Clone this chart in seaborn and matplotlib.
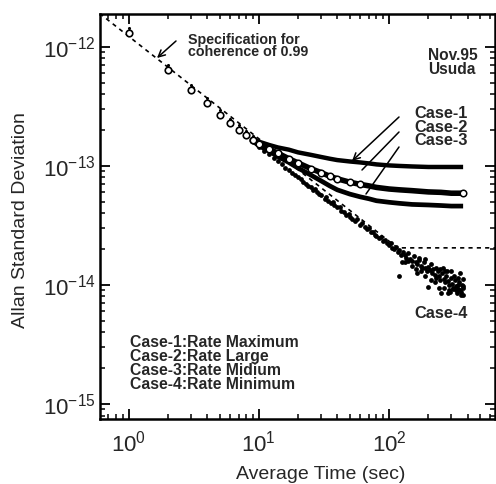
import numpy as np
import pandas as pd
import matplotlib
matplotlib.use("Agg")
import matplotlib.pyplot as plt
import seaborn as sns
from matplotlib.ticker import LogLocator, NullFormatter, FixedLocator

# ---------------- data ----------------
tau_early = [1, 2, 3, 4, 5, 6, 7, 8, 9]
sig_early = [1.31e-12, 6.4e-13, 4.35e-13, 3.39e-13, 2.68e-13, 2.30e-13, 2.01e-13, 1.82e-13, 1.66e-13]
sig_early_top = [1.45e-12, 7.0e-13, 4.8e-13, 3.7e-13, 2.95e-13, 2.5e-13, 2.2e-13, 1.95e-13, 1.8e-13]

tau_line = [9, 10, 12, 14, 17, 20, 25, 30, 35, 40, 50, 60, 70, 80, 100, 120, 150, 200, 250, 300, 370]
case1 = [1.68e-13, 1.60e-13, 1.50e-13, 1.43e-13, 1.37e-13, 1.30e-13, 1.24e-13, 1.19e-13, 1.15e-13, 1.12e-13,
         1.09e-13, 1.07e-13, 1.05e-13, 1.03e-13, 1.01e-13, 1.00e-13, 9.9e-14, 9.8e-14, 9.8e-14, 9.8e-14, 9.8e-14]
case2 = [1.65e-13, 1.52e-13, 1.38e-13, 1.28e-13, 1.15e-13, 1.06e-13, 9.5e-14, 8.8e-14, 8.2e-14, 7.8e-14,
         7.3e-14, 7.0e-14, 6.8e-14, 6.6e-14, 6.4e-14, 6.3e-14, 6.2e-14, 6.05e-14, 6.0e-14, 5.9e-14, 5.9e-14]
case3 = [1.62e-13, 1.48e-13, 1.33e-13, 1.20e-13, 1.07e-13, 9.6e-14, 8.4e-14, 7.5e-14, 6.8e-14, 6.3e-14,
         5.8e-14, 5.5e-14, 5.3e-14, 5.1e-14, 4.95e-14, 4.85e-14, 4.75e-14, 4.7e-14, 4.65e-14, 4.6e-14, 4.6e-14]

tau4 = [10, 11, 12, 13, 14, 15, 16, 17, 18, 19, 20, 21, 22, 23, 24, 25, 26, 27, 28, 29, 30, 32, 33, 34, 36,
        37, 38, 40, 42, 43, 45, 47, 49, 50, 52, 55, 57, 60, 62, 65, 68, 70, 72, 75, 78, 80, 83, 86, 90, 93,
        96, 100, 103, 106, 110, 113, 117, 120, 124, 128, 132, 136, 140, 145, 150, 155, 160, 165, 170, 175,
        180, 185, 190, 195, 200, 206, 212, 218, 224, 230, 236, 242, 248, 255, 262, 268, 275, 282, 290, 297,
        305, 312, 320, 328, 336, 345, 352, 360, 366, 372,
        119, 125, 165, 170, 190, 200, 210, 240, 250, 260, 285, 290, 300, 330, 350, 370, 355, 340, 310, 270,
        210, 225, 245, 265, 280, 295, 315, 325, 340, 358, 368, 230, 190, 175, 160, 150, 140, 133]
sig4 = np.array([14.5, 13.4, 12.5, 11.6, 11.0, 10.3, 9.7, 9.3, 8.8, 8.4, 8.0, 7.8, 7.3, 7.0, 6.8, 6.6, 6.3,
                 6.4, 6.0, 5.8, 5.7, 5.3, 5.5, 5.1, 4.9, 5.0, 4.7, 4.5, 4.5, 4.2, 4.1, 3.9, 3.95, 3.7,
                 3.6, 3.45, 3.55, 3.2, 3.3, 3.05, 2.95, 3.0, 2.8, 2.8, 2.65, 2.6, 2.5, 2.55, 2.35, 2.4,
                 2.25, 2.15, 2.25, 2.05, 2.0, 2.1, 1.9, 1.95, 1.8, 1.9, 1.8, 1.7, 1.85, 1.65, 1.6, 1.75,
                 1.55, 1.5, 1.62, 1.45, 1.4, 1.55, 1.38, 1.3, 1.42, 1.33, 1.25, 1.36, 1.22, 1.15, 1.3,
                 1.18, 1.1, 1.25, 1.12, 1.05, 1.2, 1.08, 1.0, 1.14, 1.02, 0.95, 1.1, 0.98, 0.92, 1.06,
                 0.9, 1.0, 0.94, 0.98,
                 1.18, 1.55, 1.25, 1.7, 1.65, 0.97, 1.1, 0.95, 0.85, 1.4, 0.85, 0.9, 1.3, 0.85, 1.25,
                 0.83, 0.88, 1.15, 0.93, 1.3,
                 1.5, 1.05, 1.35, 0.95, 1.3, 0.88, 1.2, 0.9, 1.0, 0.82, 1.12, 1.4, 1.2, 1.3, 1.35, 1.45,
                 1.6, 1.55]) * 1e-14

spec_tau = [0.6, 116, 650]
spec_sig = [1.91e-12, 2.05e-14, 2.05e-14]

x_major = [1, 10, 100]
y_major = [1e-15, 1e-14, 1e-13, 1e-12]

legend_lines = ["Case-1:Rate Maximum", "Case-2:Rate Large", "Case-3:Rate Midium", "Case-4:Rate Minimum"]
case_labels = ["Case-1", "Case-2", "Case-3"]

# ---------------- styling ----------------
sns.set_theme(style="ticks")
plt.rcParams["font.family"] = ["Liberation Sans", "DejaVu Sans"]
plt.rcParams["mathtext.fontset"] = "custom"
plt.rcParams["mathtext.rm"] = "Liberation Sans"
plt.rcParams["mathtext.it"] = "Liberation Sans:italic"
plt.rcParams["mathtext.bf"] = "Liberation Sans:bold"

W, H = 496, 484
fig = plt.figure(figsize=(W / 100, H / 100), dpi=100)
ax = fig.add_axes([100 / W, 1 - 419 / H, 395 / W, 405 / H])

def fp(px, py):
    return (px / W, 1 - py / H)

# spec line
sns.lineplot(x=spec_tau, y=spec_sig, ax=ax, color="black", lw=1.2, linestyle=(0, (2.5, 2.5)), sort=False)

# cases 1-3 dense lines
df = pd.DataFrame({
    "tau": tau_line * 3,
    "sigma": case1 + case2 + case3,
    "case": ["Case-1"] * len(tau_line) + ["Case-2"] * len(tau_line) + ["Case-3"] * len(tau_line),
})
for name, lw in [("Case-1", 3.2), ("Case-2", 4.0), ("Case-3", 3.4)]:
    sns.lineplot(data=df[df["case"] == name], x="tau", y="sigma", ax=ax, color="black", lw=lw,
                 solid_capstyle="butt", legend=False)

# open circles along case-2
c2 = df[(df["case"] == "Case-2") & ((df["tau"] <= 60) | (df["tau"] == 370))]
sns.scatterplot(data=c2, x="tau", y="sigma", ax=ax, marker="o", s=22, facecolor="white",
                edgecolor="black", linewidth=1.1, zorder=5, legend=False)

# early common points
sns.scatterplot(x=tau_early, y=sig_early_top, ax=ax, marker="o", s=5, color="black", linewidth=0, zorder=5)
sns.scatterplot(x=tau_early, y=sig_early, ax=ax, marker="o", s=22, facecolor="white",
                edgecolor="black", linewidth=1.2, zorder=6)

# case-4 scatter
sns.scatterplot(x=tau4, y=sig4, ax=ax, marker="o", s=12, color="black", linewidth=0, zorder=4)

ax.set_xscale("log")
ax.set_yscale("log")
ax.set_xlim(0.604, 650)
ax.set_ylim(7.48e-16, 1.89e-12)

ax.xaxis.set_major_locator(FixedLocator(x_major))
ax.yaxis.set_major_locator(FixedLocator(y_major))
ax.xaxis.set_minor_locator(LogLocator(base=10, subs=np.arange(2, 10), numticks=20))
ax.yaxis.set_minor_locator(LogLocator(base=10, subs=np.arange(2, 10), numticks=20))
ax.xaxis.set_minor_formatter(NullFormatter())
ax.yaxis.set_minor_formatter(NullFormatter())

for s in ax.spines.values():
    s.set_linewidth(1.8)
    s.set_color("black")
ax.tick_params(which="both", direction="in", top=True, right=True, color="black")
ax.tick_params(which="major", length=7, width=1.3, labelsize=16, pad=3)
ax.tick_params(which="minor", length=3.5, width=1.1)
ax.tick_params(axis="x", which="major", pad=8)

ax.set_xlabel("Average Time (sec)", fontsize=14)
ax.set_ylabel("Allan Standard Deviation", fontsize=14)
ax.xaxis.set_label_coords(0.558, -0.115)
ax.yaxis.set_label_coords(-0.18, 0.49)

# annotations
fig.text(*fp(188, 33), "Specification for\ncoherence of 0.99", fontsize=10.3, fontweight="bold",
         ha="left", va="top", linespacing=0.82)
ax.annotate("", xy=fp(157, 58), xytext=fp(176, 41), xycoords="figure fraction",
            textcoords="figure fraction",
            arrowprops=dict(arrowstyle="->", lw=1.1, color="black", shrinkA=0, shrinkB=0))

fig.text(*fp(428, 48), "Nov.95\nUsuda", fontsize=11.2, fontweight="bold", ha="left", va="top",
         linespacing=0.9)

fig.text(*fp(414, 106), "\n".join(case_labels), fontsize=11.8, fontweight="bold", ha="left", va="top",
         linespacing=0.88)
ax.annotate("", xy=fp(352, 161), xytext=fp(399, 117), xycoords="figure fraction",
            textcoords="figure fraction",
            arrowprops=dict(arrowstyle="->", lw=1.1, color="black", shrinkA=0, shrinkB=0))
ax.annotate("", xy=fp(362, 170), xytext=fp(399, 132), xycoords="figure fraction",
            textcoords="figure fraction",
            arrowprops=dict(arrowstyle="-", lw=1.1, color="black", shrinkA=0, shrinkB=0))
ax.annotate("", xy=fp(366, 194), xytext=fp(399, 147), xycoords="figure fraction",
            textcoords="figure fraction",
            arrowprops=dict(arrowstyle="-", lw=1.1, color="black", shrinkA=0, shrinkB=0))

fig.text(*fp(414, 313), "Case-4", fontsize=11.8, fontweight="bold", ha="left", va="center")

fig.text(*fp(130, 335), "\n".join(legend_lines), fontsize=11.3, fontweight="bold", ha="left", va="top",
         linespacing=0.93)

fig.savefig("out.png", dpi=100)
